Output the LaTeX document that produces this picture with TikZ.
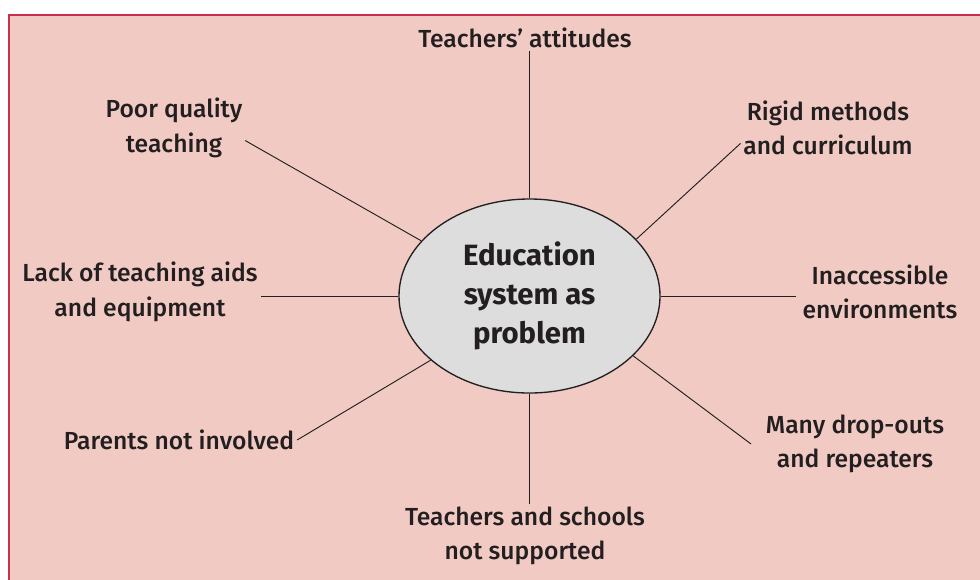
\documentclass[tikz,border=0pt]{standalone}
\usepackage{fontspec}
\setmainfont{Fira Sans Medium}[BoldFont={Fira Sans Bold}]
\usetikzlibrary{shapes.geometric}
\definecolor{panel}{HTML}{F0CAC3}
\definecolor{framered}{HTML}{C8304F}
\definecolor{hubgrey}{HTML}{DDDDDD}
\definecolor{ink}{HTML}{231F20}
\begin{document}
\begin{tikzpicture}[x=0.75pt,y=-0.75pt,
  cause/.style={align=center,text=ink,font=\fontsize{18.5}{26}\selectfont,inner sep=2pt},
  spoke/.style={draw=ink,line width=0.7pt}]
  \clip (0,0) rectangle (980,579);
  \fill[white] (0,0) rectangle (980,579);
  \draw[fill=panel,draw=framered,line width=1.4pt] (9,15) rectangle (1000,600);
  % centre
  \node[ellipse,draw=ink,fill=hubgrey,line width=1pt,inner sep=0pt,
    minimum width=195.75pt,minimum height=145.5pt,align=center,text=ink,
    font=\fontsize{22}{29.5}\selectfont\bfseries] (hub) at (529.5,296)
    {Education\\system as\\problem};
  % causes
  \node[cause] (attitudes) at (525,38) {Teachers' attitudes};
  \node[cause] (rigid) at (828,128) {Rigid methods\\and curriculum};
  \node[cause] (poor) at (174,128) {Poor quality\\teaching};
  \node[cause] (lack) at (140,292) {Lack of teaching aids\\and equipment};
  \node[cause] (access) at (880,292) {Inaccessible\\environments};
  \node[cause] (many) at (855,444) {Many drop-outs\\and repeaters};
  \node[cause] (parents) at (179,440) {Parents not involved};
  \node[cause] (support) at (525,536) {Teachers and schools\\not supported};
  % spokes
  \draw[spoke] (hub.north) -- (hub.north |- attitudes.south);
  \draw[spoke] (hub.28) -- (rigid.190);
  \draw[spoke] (hub.153) -- (poor.-10);
  \draw[spoke] (hub.west) -- (hub.west -| lack.east);
  \draw[spoke] (hub.east) -- ([xshift=-3pt]hub.east -| access.west);
  \draw[spoke] (hub.-30) -- ([xshift=-9pt]many.west);
  \draw[spoke] (hub.213) -- (parents.east);
  \draw[spoke] (hub.south) -- (hub.south |- support.north);
\end{tikzpicture}
\end{document}
